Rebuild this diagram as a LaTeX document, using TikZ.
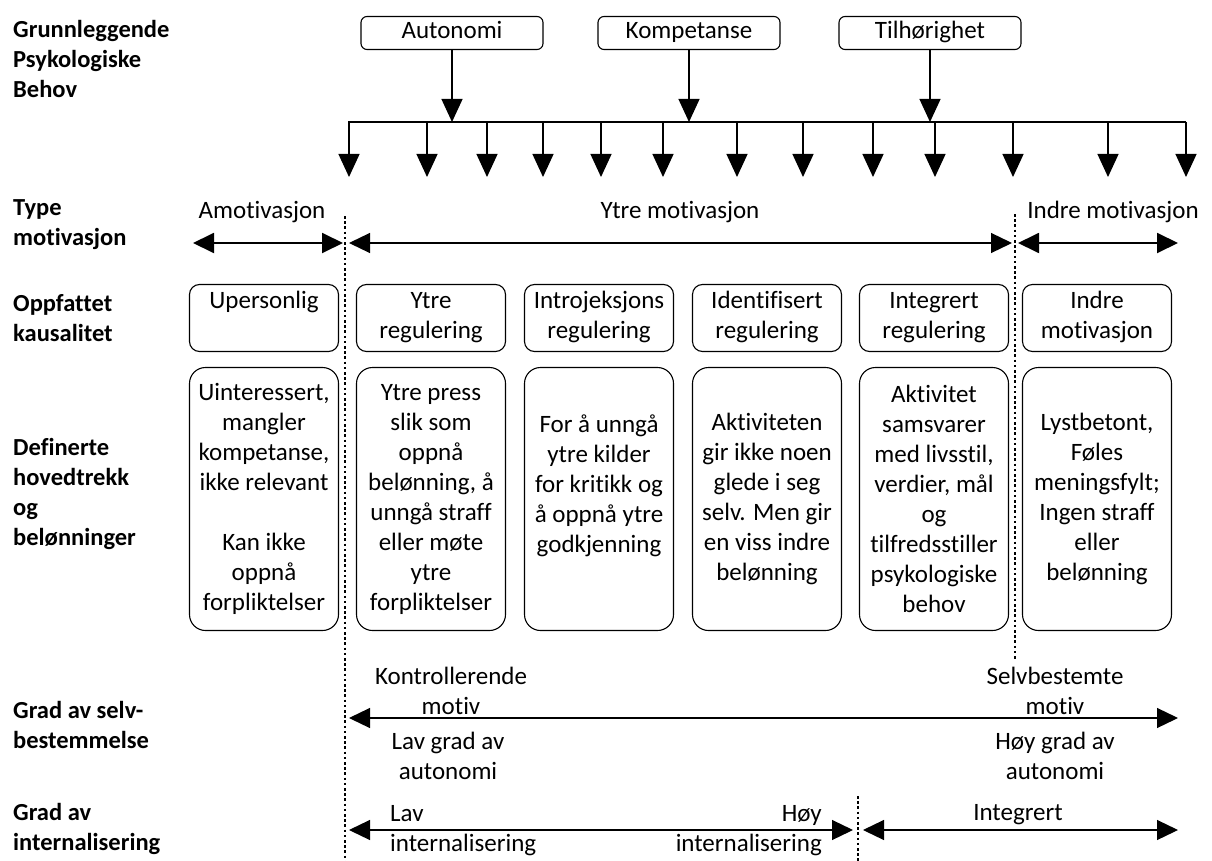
\documentclass[tikz,border=0pt]{standalone}
\usepackage{fontspec}
\setmainfont{Carlito}[Ligatures=NoCommon]
\usetikzlibrary{arrows.meta}

\begin{document}
\begin{tikzpicture}[x=1pt, y=-1pt,
    every node/.style={font=\fontsize{25}{30}\selectfont, inner sep=0pt},
    radtekst/.style={anchor=west, align=left, font=\fontsize{24.5}{30}\selectfont\bfseries},
    behovboks/.style={draw, rounded corners=6pt, line width=1.1pt, minimum width=182pt, minimum height=33pt, text height=16pt, text depth=5pt},
    kausboks/.style={draw, rounded corners=10pt, line width=1.1pt, minimum width=149pt, minimum height=67pt, align=center, text height=47pt, text depth=7pt},
    trekkboks/.style={draw, rounded corners=16pt, line width=1.1pt, minimum width=149pt, minimum height=263pt, align=center},
    pil/.style={-{Triangle[width=21pt,length=23pt]}, line width=1.2pt},
    dobbelpil/.style={{Triangle[width=20pt,length=21pt]}-{Triangle[width=20pt,length=21pt]}, line width=1.2pt},
    skille/.style={line width=2.8pt, dash pattern=on 2.6pt off 2.6pt}
  ]
  \useasboundingbox (0,0) rectangle (1212,861);

  % 1. RADTITLER (venstre kolonne)
  \node[radtekst] (rGrunn) at (13,59) {Grunnleggende\\Psykologiske\\Behov};
  \node[radtekst] (rType) at (13,225) {Type\\motivasjon};
  \node[radtekst] (rKaus) at (13,318) {Oppfattet\\kausalitet};
  \node[radtekst] (rDef) at (13,494) {Definerte\\hovedtrekk\\og\\belønninger};
  \node[radtekst] (rSelv) at (13,725) {Grad av selv-\\bestemmelse};
  \node[radtekst] (rInt) at (13,829) {Grad av\\internalisering};

  % 2. GRUNNLEGGENDE BEHOV og forgreining
  \node[behovboks] (aut) at (452,33) {Autonomi};
  \node[behovboks] (komp) at (689,33) {Kompetanse};
  \node[behovboks] (tilh) at (930,33) {Tilhørighet};
  \coordinate (busV) at (348,122);
  \coordinate (busH) at (1186,122);
  \draw[line width=1.2pt] (busV) -- (busH);
  \foreach \b in {aut,komp,tilh} { \draw[pil] (\b.south) -- (\b.south |- busV); }
  \foreach \x [count=\i] in {349,427,487,543,601,663,737,803,873,935,1013,1108,1186} {
    \coordinate (gren\i) at (\x,122);
    \coordinate (spiss\i) at (\x,177);
    \draw[pil] (gren\i) -- (spiss\i);
  }

  % 3. SKILLELINJER (prikket)
  \coordinate (s1a) at (345,216); \coordinate (s1b) at (345,861);
  \coordinate (s2a) at (1015,214); \coordinate (s2b) at (1015,660);
  \coordinate (s3a) at (858,796); \coordinate (s3b) at (858,861);
  \draw[skille] (s1a) -- (s1b);
  \draw[skille] (s2a) -- (s2b);
  \draw[skille] (s3a) -- (s3b);

  % 4. TYPE MOTIVASJON
  \node (tAmot) at (262,212) {Amotivasjon};
  \node (tYtre) at (680,212) {Ytre motivasjon};
  \node (tIndre) at (1113,212) {Indre motivasjon};
  \coordinate (amV) at (193,243); \coordinate (amH) at (343,243);
  \coordinate (ytV) at (349,243); \coordinate (ytH) at (1012,243);
  \coordinate (inV) at (1018,243); \coordinate (inH) at (1178,243);
  \draw[dobbelpil, line width=1.9pt] (amV) -- (amH);
  \draw[dobbelpil] (ytV) -- (ytH);
  \draw[dobbelpil, line width=1.9pt] (inV) -- (inH);

  % 5. OPPFATTET KAUSALITET
  \node[kausboks] (kUpers) at (264,318) {Upersonlig\\~};
  \node[kausboks] (kYtre) at (431,318) {Ytre\\regulering};
  \node[kausboks] (kIntro) at (599,318) {Introjeksjons\\regulering};
  \node[kausboks] (kIdent) at (767,318) {Identifisert\\regulering};
  \node[kausboks] (kInteg) at (934,318) {Integrert\\regulering};
  \node[kausboks] (kIndre) at (1097,318) {Indre\\motivasjon};

  % 6. DEFINERTE HOVEDTREKK
  \node[trekkboks] (dUpers) at (264,499) {Uinteressert,\\mangler\\kompetanse,\\ikke relevant\\[30pt]Kan ikke\\oppnå\\forpliktelser};
  \node[trekkboks] (dYtre) at (431,499) {Ytre press\\slik som\\oppnå\\belønning, å\\unngå straff\\eller møte\\ytre\\forpliktelser};
  \node[trekkboks] (dIntro) at (599,499) {For å unngå\\ytre kilder\\for kritikk og\\å oppnå ytre\\godkjenning\\~};
  \node[trekkboks] (dIdent) at (767,499) {Aktiviteten\\gir ikke noen\\glede i seg\\selv. Men gir\\en viss indre\\belønning};
  \node[trekkboks] (dInteg) at (934,499) {Aktivitet\\samsvarer\\med livsstil,\\verdier, mål\\og\\tilfredsstiller\\psykologiske\\behov};
  \node[trekkboks] (dIndre) at (1097,499) {Lystbetont,\\Føles\\meningsfylt;\\Ingen straff\\eller\\belønning};

  % 7. GRAD AV SELVBESTEMMELSE
  \coordinate (sbV) at (349,718); \coordinate (sbH) at (1178,718);
  \draw[dobbelpil] (sbV) -- (sbH);
  \node[align=center] (kontr) at (451,691) {Kontrollerende\\motiv};
  \node[align=center] (lavAut) at (448,756) {Lav grad av\\autonomi};
  \node[align=center] (selvb) at (1055,691) {Selvbestemte\\motiv};
  \node[align=center] (hoyAut) at (1055,756) {Høy grad av\\autonomi};

  % 8. GRAD AV INTERNALISERING
  \coordinate (inLV) at (349,830); \coordinate (inLH) at (853,830);
  \coordinate (inRV) at (863,830); \coordinate (inRH) at (1178,830);
  \draw[dobbelpil] (inLV) -- (inLH);
  \draw[dobbelpil] (inRV) -- (inRH);
  \node[align=left, anchor=west] (lavInt) at (390,831) {Lav\\internalisering};
  \node[align=right, anchor=east] (hoyInt) at (822,831) {Høy\\internalisering};
  \node (integ) at (1018,815) {Integrert};

\end{tikzpicture}
\end{document}
